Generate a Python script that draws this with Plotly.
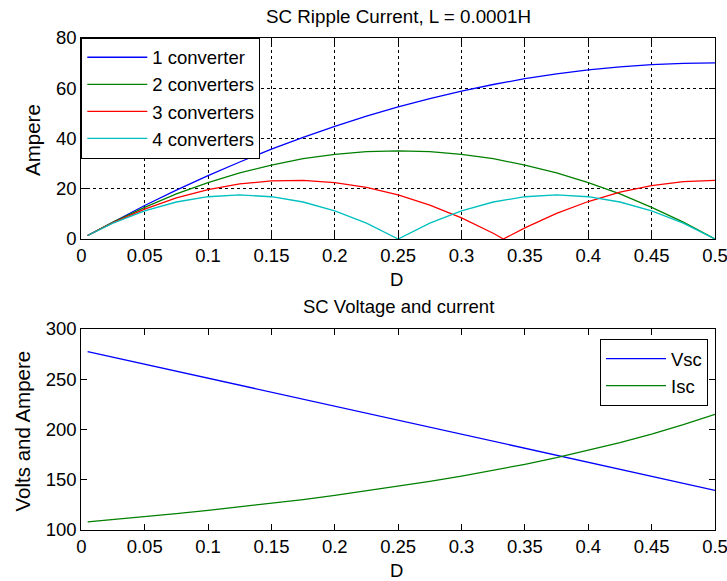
import plotly.graph_objects as go

# ---- data ----
D = [0.005, 0.025, 0.05, 0.075, 0.1, 0.125, 0.15, 0.175, 0.2, 0.225, 0.25,
     0.275, 0.3, 0.325, 0.35, 0.375, 0.4, 0.425, 0.45, 0.475, 0.5]
D_3 = [0.005, 0.025, 0.05, 0.075, 0.1, 0.125, 0.15, 0.175, 0.2, 0.225, 0.25,
       0.275, 0.3, 0.325, 0.333, 0.35, 0.375, 0.4, 0.425, 0.45, 0.475, 0.5]

ripple_1 = [1.4, 6.8, 13.3, 19.4, 25.2, 30.6, 35.7, 40.4, 44.8, 48.8, 52.5,
            55.8, 58.8, 61.4, 63.7, 65.6, 67.2, 68.4, 69.3, 69.8, 70.0]
ripple_2 = [1.4, 6.7, 12.6, 17.9, 22.4, 26.3, 29.4, 31.9, 33.6, 34.7, 35.0,
            34.7, 33.6, 31.9, 29.4, 26.3, 22.4, 17.9, 12.6, 6.7, 0.0]
ripple_3 = [1.4, 6.5, 11.9, 16.3, 19.6, 21.9, 23.1, 23.3, 22.4, 20.5, 17.5,
            13.5, 8.4, 2.3, 0.0, 4.4, 10.2, 14.9, 18.6, 21.2, 22.8, 23.3]
ripple_4 = [1.4, 6.3, 11.2, 14.7, 16.8, 17.5, 16.8, 14.7, 11.2, 6.3, 0.0,
            6.3, 11.2, 14.7, 16.8, 17.5, 16.8, 14.7, 11.2, 6.3, 0.0]

Vsc = [277.6, 272.0, 265.1, 258.1, 251.1, 244.1, 237.2, 230.2, 223.2, 216.2, 209.3,
       202.3, 195.3, 188.3, 181.4, 174.4, 167.4, 160.4, 153.5, 146.5, 139.5]
Isc = [108.1, 110.3, 113.2, 116.2, 119.5, 122.9, 126.5, 130.3, 134.4, 138.8, 143.3,
       148.3, 153.6, 159.3, 165.4, 172.0, 179.2, 187.0, 195.4, 204.8, 215.1]

ripple_names = ["1 converter", "2 converters", "3 converters", "4 converters"]
curve_names = ["Vsc", "Isc"]
x_ticks = [0, 0.05, 0.1, 0.15, 0.2, 0.25, 0.3, 0.35, 0.4, 0.45, 0.5]
top_y_ticks = [0, 20, 40, 60, 80]
bot_y_ticks = [100, 150, 200, 250, 300]

BLUE, GREEN, RED, CYAN = "#0000ff", "#008000", "#ff0000", "#00bfbf"
FONT = "Liberation Sans, Arial, sans-serif"
FS = 18.5
W, H = 727, 581

fig = go.Figure()
for xs, ys, name, col in [(D, ripple_1, ripple_names[0], BLUE),
                          (D, ripple_2, ripple_names[1], GREEN),
                          (D_3, ripple_3, ripple_names[2], RED),
                          (D, ripple_4, ripple_names[3], CYAN)]:
    fig.add_trace(go.Scatter(x=xs, y=ys, name=name, mode="lines",
                             line=dict(color=col, width=1.3),
                             xaxis="x", yaxis="y", legend="legend"))
for ys, name, col in [(Vsc, curve_names[0], BLUE), (Isc, curve_names[1], GREEN)]:
    fig.add_trace(go.Scatter(x=D, y=ys, name=name, mode="lines",
                             line=dict(color=col, width=1.3),
                             xaxis="x2", yaxis="y2", legend="legend2"))

xl, xr = 81.3 / W, 715 / W
xc = (xl + xr) / 2
top_dom = [1 - 239 / H, 1 - 37.7 / H]
bot_dom = [1 - 530 / H, 1 - 329 / H]

axis_common = dict(showline=True, linecolor="black", linewidth=1, mirror="allticks",
                   ticks="inside", ticklen=6, tickcolor="black", tickwidth=1,
                   zeroline=False, automargin=False, ticklabeloverflow="allow",
                   tickfont=dict(family=FONT, size=FS, color="black"))


def label(text, px, py, angle=0, size=FS):
    return dict(text=text, x=px / W, y=1 - py / H, xref="paper", yref="paper",
                showarrow=False, xanchor="center", yanchor="middle", textangle=angle,
                font=dict(family=FONT, size=size, color="black"))


fig.update_layout(
    width=W, height=H, margin=dict(l=0, r=0, t=0, b=0),
    paper_bgcolor="white", plot_bgcolor="white",
    font=dict(family=FONT, size=FS, color="black"),
    xaxis=dict(domain=[xl, xr], anchor="y", range=[0, 0.5], tickvals=x_ticks,
               ticktext=[f"{v:g}" for v in x_ticks],
               showgrid=True, gridcolor="black", gridwidth=1, griddash="3px,3px",
               **axis_common),
    yaxis=dict(domain=top_dom, anchor="x", range=[0, 80], tickvals=top_y_ticks,
               showgrid=True, gridcolor="black", gridwidth=1, griddash="3px,3px",
               **axis_common),
    xaxis2=dict(domain=[xl, xr], anchor="y2", range=[0, 0.5], tickvals=x_ticks,
                ticktext=[f"{v:g}" for v in x_ticks], showgrid=False,
                **axis_common),
    yaxis2=dict(domain=bot_dom, anchor="x2", range=[100, 300], tickvals=bot_y_ticks,
                showgrid=False, **axis_common),
    legend=dict(x=xl, y=top_dom[1], xanchor="left", yanchor="top",
                bgcolor="white", bordercolor="black", borderwidth=1,
                font=dict(family=FONT, size=FS, color="black"), itemwidth=60),
    legend2=dict(x=708 / W, y=1 - 339 / H, xanchor="right", yanchor="top",
                 bgcolor="white", bordercolor="black", borderwidth=1,
                 font=dict(family=FONT, size=FS, color="black"), itemwidth=60),
    showlegend=True,
    annotations=[
        label("SC Ripple Current, L = 0.0001H", xc * W, 16, size=18.8),
        label("SC Voltage and current", xc * W, 306.7),
        label("D", 396, 279),
        label("D", 396, 570),
        label("Ampere", 32, 140, angle=-90, size=20.5),
        label("Volts and Ampere", 21.5, 431, angle=-90, size=20.5),
    ],
)

fig.write_html("out.html")
